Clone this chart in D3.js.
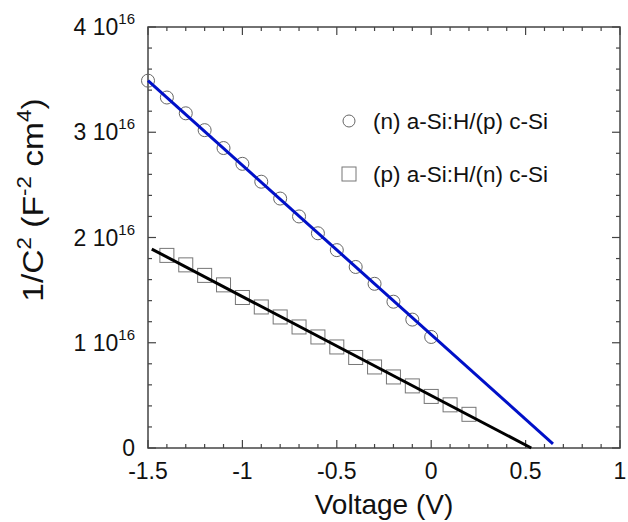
<!DOCTYPE html>
<html>
<head>
<meta charset="utf-8">
<script src="https://cdn.jsdelivr.net/npm/d3@7"></script>
<style>
  body { margin: 0; background: #fff; }
  svg text { font-family: "Liberation Sans", Arial, sans-serif; fill: #111; }
</style>
</head>
<body>
<div id="chart"></div>
<script>
// values in units of 1e16 F^-2 cm^4
var voltN = [-1.5, -1.4, -1.3, -1.2, -1.1, -1.0, -0.9, -0.8, -0.7, -0.6, -0.5, -0.4, -0.3, -0.2, -0.1, 0.0];
var invC2N = [3.49, 3.33, 3.18, 3.02, 2.85, 2.70, 2.53, 2.37, 2.20, 2.04, 1.88, 1.72, 1.56, 1.39, 1.22, 1.055];
var voltP = [-1.4, -1.3, -1.2, -1.1, -1.0, -0.9, -0.8, -0.7, -0.6, -0.5, -0.4, -0.3, -0.2, -0.1, 0.0, 0.1, 0.2];
var invC2P = [1.83, 1.74, 1.64, 1.55, 1.43, 1.34, 1.245, 1.15, 1.055, 0.96, 0.86, 0.77, 0.675, 0.59, 0.49, 0.41, 0.32];
var fitN = [[-1.5, 3.49], [0.645, 0.04]];
var fitP = [[-1.48, 1.89], [0.53, 0.0]];
var xTicks = [-1.5, -1, -0.5, 0, 0.5, 1];
var yTicks = [0, 1, 2, 3, 4];
var legendLabels = ['(n) a-Si:H/(p) c-Si', '(p) a-Si:H/(n) c-Si'];

var width = 628, height = 522;
var pLeft = 148, pRight = 620, pTop = 27, pBottom = 448;

var svg = d3.select('#chart').append('svg')
  .attr('width', width)
  .attr('height', height);

var x = d3.scaleLinear().domain([-1.5, 1]).range([pLeft, pRight]);
var y = d3.scaleLinear().domain([0, 4]).range([pBottom, pTop]);

var xMinor = d3.range(-15, 11).map(function (d) { return d / 10; });
var yMinor = d3.range(0, 21).map(function (d) { return d / 5; });

var axisColor = '#444';

// frame
svg.append('rect')
  .attr('x', pLeft).attr('y', pTop)
  .attr('width', pRight - pLeft).attr('height', pBottom - pTop)
  .style('fill', 'none').style('stroke', axisColor).style('stroke-width', 1.5);

// inward ticks on all four sides
function isMajor(v, list) { return list.some(function (t) { return Math.abs(t - v) < 1e-9; }); }

xMinor.forEach(function (v) {
  var len = isMajor(v, xTicks) ? 8 : 4;
  svg.append('line').attr('x1', x(v)).attr('x2', x(v)).attr('y1', pBottom).attr('y2', pBottom - len)
    .style('stroke', axisColor).style('stroke-width', 1.2);
  svg.append('line').attr('x1', x(v)).attr('x2', x(v)).attr('y1', pTop).attr('y2', pTop + len)
    .style('stroke', axisColor).style('stroke-width', 1.2);
});
yMinor.forEach(function (v) {
  var len = isMajor(v, yTicks) ? 8 : 4;
  svg.append('line').attr('x1', pLeft).attr('x2', pLeft + len).attr('y1', y(v)).attr('y2', y(v))
    .style('stroke', axisColor).style('stroke-width', 1.2);
  svg.append('line').attr('x1', pRight).attr('x2', pRight - len).attr('y1', y(v)).attr('y2', y(v))
    .style('stroke', axisColor).style('stroke-width', 1.2);
});

// x tick labels
svg.selectAll('.xlab').data(xTicks).enter().append('text')
  .attr('class', 'xlab')
  .attr('x', function (d) { return x(d); })
  .attr('y', 479)
  .attr('text-anchor', 'middle')
  .style('font-size', '23px')
  .text(function (d) { return d; });

// y tick labels "n 10^16"
yTicks.forEach(function (d) {
  var t = svg.append('text')
    .attr('x', 135)
    .attr('y', y(d) + 8)
    .attr('text-anchor', 'end')
    .style('font-size', '23px');
  if (d === 0) {
    t.text('0');
  } else {
    t.append('tspan').text(d + ' 10');
    t.append('tspan').attr('dy', -11).style('font-size', '15px').text('16');
  }
});

// axis titles
svg.append('text')
  .attr('x', 384).attr('y', 514)
  .attr('text-anchor', 'middle')
  .style('font-size', '28px')
  .text('Voltage (V)');

var yt = svg.append('text')
  .attr('transform', 'translate(43,200) rotate(-90) scale(1.12,1)')
  .attr('text-anchor', 'middle')
  .style('font-size', '30px');
yt.append('tspan').text('1/C');
yt.append('tspan').attr('dy', -12).style('font-size', '20px').text('2');
yt.append('tspan').attr('dy', 12).text(' (F');
yt.append('tspan').attr('dy', -12).style('font-size', '20px').text('-2');
yt.append('tspan').attr('dy', 12).text(' cm');
yt.append('tspan').attr('dy', -12).style('font-size', '20px').text('4');
yt.append('tspan').attr('dy', 12).text(')');

var plot = svg.append('g');

// markers
plot.selectAll('.circ').data(voltN).enter().append('circle')
  .attr('class', 'circ')
  .attr('cx', function (d) { return x(d); })
  .attr('cy', function (d, i) { return y(invC2N[i]); })
  .attr('r', 6.5)
  .style('fill', 'none').style('stroke', '#666').style('stroke-width', 1);

plot.selectAll('.sq').data(voltP).enter().append('rect')
  .attr('class', 'sq')
  .attr('x', function (d) { return x(d) - 7; })
  .attr('y', function (d, i) { return y(invC2P[i]) - 7; })
  .attr('width', 14).attr('height', 14)
  .style('fill', 'none').style('stroke', '#777').style('stroke-width', 1);

// fit lines
var line = d3.line().x(function (d) { return x(d[0]); }).y(function (d) { return y(d[1]); });

plot.append('path').datum(fitN).attr('d', line)
  .style('fill', 'none').style('stroke', '#0010c8').style('stroke-width', 3);
plot.append('path').datum(fitP).attr('d', line)
  .style('fill', 'none').style('stroke', '#000').style('stroke-width', 3);

// legend
var lg = svg.append('g');
lg.append('circle').attr('cx', 349).attr('cy', 121).attr('r', 6)
  .style('fill', 'none').style('stroke', '#666').style('stroke-width', 1);
lg.append('rect').attr('x', 342).attr('y', 167).attr('width', 14).attr('height', 14)
  .style('fill', 'none').style('stroke', '#777').style('stroke-width', 1);
lg.append('text').attr('x', 373).attr('y', 129).style('font-size', '22.5px').text(legendLabels[0]);
lg.append('text').attr('x', 373).attr('y', 182).style('font-size', '22.5px').text(legendLabels[1]);
</script>
</body>
</html>
